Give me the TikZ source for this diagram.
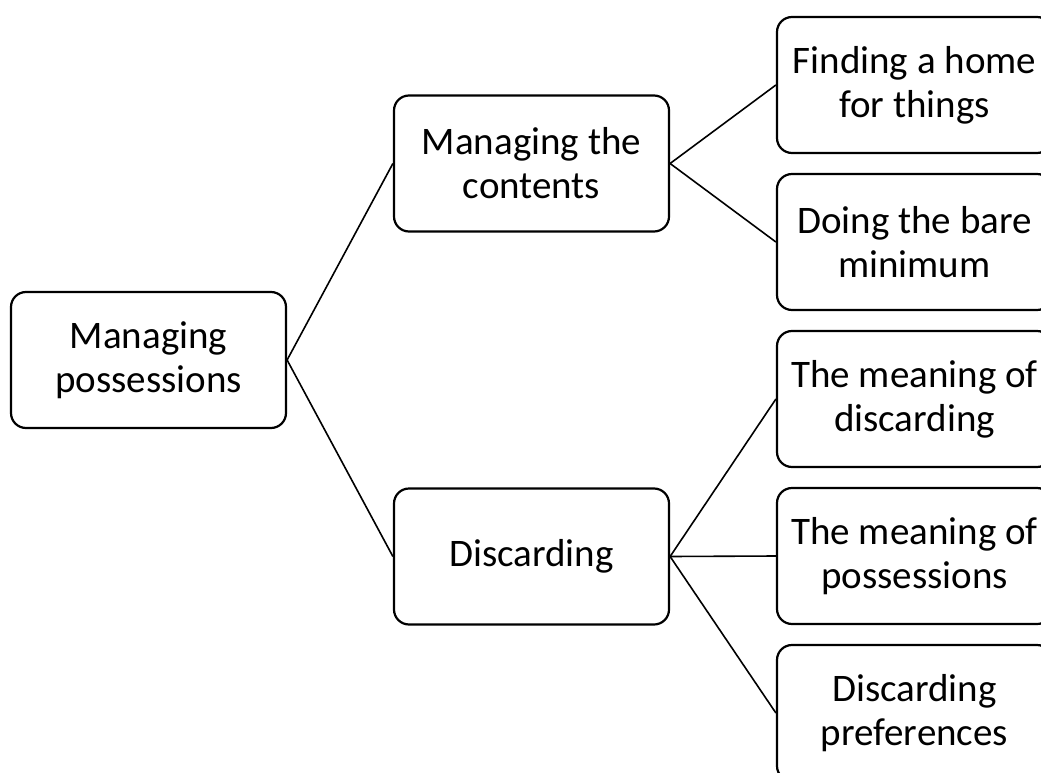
\documentclass[tikz,border=0pt]{standalone}
\usepackage{fontspec}
\setmainfont{Carlito}
\begin{document}
\begin{tikzpicture}[x=1pt,y=-1pt,
  box/.style={draw=black, line width=2.2pt, rounded corners=15pt, fill=white,
    minimum width=275pt, minimum height=136pt, inner sep=0pt,
    align=center,
    font=\fontsize{39}{44}\selectfont},
  link/.style={draw=black, line width=1.6pt}]
\useasboundingbox (0,0) rectangle (1041,773);
\fill[white] (0,0) rectangle (1041,773);

% tree levels
\node[box] (root) at (148.5,360) {Managing\\possessions};
\node[box] (cont) at (531.5,163.5) {Managing the\\contents};
\node[box] (disc) at (531.5,556.5) {Discarding};

\node[box] (home) at (914.5,85)  {Finding a home\\for things};
\node[box] (bare) at (914.5,242) {Doing the bare\\minimum};
\node[box] (mdis) at (914.5,399) {The meaning of\\discarding};
\node[box] (mpos) at (914.5,556) {The meaning of\\possessions};
\node[box] (pref) at (914.5,713) {Discarding\\preferences};

% connectors
\draw[link] (root.east) -- (cont.west);
\draw[link] (root.east) -- (disc.west);
\draw[link] (cont.east) -- (home.west);
\draw[link] (cont.east) -- (bare.west);
\draw[link] (disc.east) -- (mdis.west);
\draw[link] (disc.east) -- (mpos.west);
\draw[link] (disc.east) -- (pref.west);
\end{tikzpicture}
\end{document}
